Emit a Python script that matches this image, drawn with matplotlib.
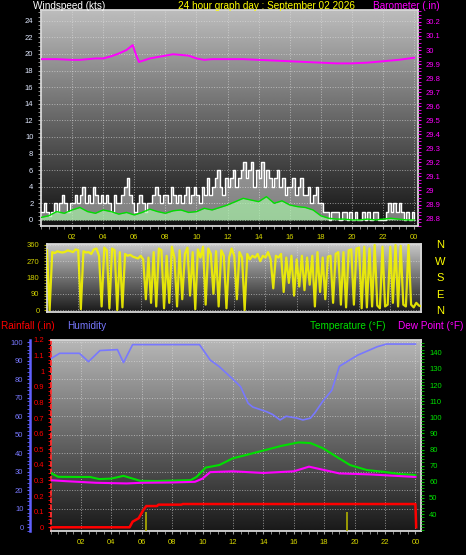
import numpy as np
import matplotlib
matplotlib.use("Agg")
from matplotlib import pyplot as plt
from matplotlib.ticker import MultipleLocator

plt.rcParams["font.family"] = ["Liberation Sans", "DejaVu Sans"]

# ---- data ----
hour_ticks = [2, 4, 6, 8, 10, 12, 14, 16, 18, 20, 22, 24]
hour_labels = ["02", "04", "06", "08", "10", "12", "14", "16", "18", "20", "22", "00"]

# wind gust, 10 minute samples (kts)
gust = [1, 2, 1, 0.5, 1, 2,
        1, 2, 3, 2, 1, 2,
        2, 3, 2, 3, 4, 2,
        3, 2, 4, 3, 2, 3,
        2, 3, 2, 1, 3, 2,
        2, 3, 4, 5, 3, 2,
        1, 2, 3, 2, 1, 2,
        2, 3, 4, 3, 2, 3,
        3, 2, 4, 3, 2, 3,
        2, 3, 4, 2, 3, 4,
        3, 2, 4, 3, 5, 3,
        4, 5, 6, 4, 3, 5,
        4, 5, 6, 4, 5, 6,
        7, 5, 6, 7, 4, 6,
        5, 7, 4, 6, 5, 4,
        5, 6, 4, 5, 3, 4,
        4, 5, 3, 4, 5, 3,
        3, 4, 2, 3, 4, 2,
        2, 1, 1, 0, 1, 1,
        1, 0, 1, 1, 0, 1,
        0, 1, 0, 0, 1, 0,
        1, 0, 1, 1, 0, 0,
        0, 1, 2, 1, 2, 1,
        2, 1, 0, 1, 0, 1,
        0]

# average wind, 30 minute samples (kts)
wind_avg = [0.3, 0.5, 1.0, 0.8, 1.2, 1.5, 1.0, 0.8, 1.2, 1.0, 0.7, 0.9,
            0.6, 0.9, 1.3, 1.0, 0.8, 1.1, 1.2, 0.9, 1.0, 1.4, 1.2, 1.5,
            1.8, 2.2, 2.6, 2.4, 2.2, 2.8, 2.0, 2.3, 1.8, 1.6, 1.5, 1.2,
            0.5, 0.2, 0.1, 0.1, 0.0, 0.0, 0.1, 0.0, 0.1, 0.2, 0.1, 0.0,
            0.0]

baro_hours = [0, 1, 2, 2.5, 3, 3.5, 4, 4.5, 5, 5.5, 5.9, 6.1, 6.3, 7, 8, 8.5, 9,
              9.5, 10, 10.5, 11, 12, 13, 14, 15, 16, 17, 18, 19, 20, 21, 22, 23, 24]
baro = [29.935, 29.935, 29.93, 29.93, 29.935, 29.94, 29.94, 29.955, 29.975, 30.0,
        30.035, 29.97, 29.915, 29.94, 29.96, 29.97, 29.965, 29.96, 29.94, 29.93,
        29.935, 29.935, 29.935, 29.93, 29.925, 29.92, 29.915, 29.91, 29.905,
        29.905, 29.91, 29.92, 29.93, 29.945]

# wind direction, 10 minute samples (degrees)
wdir = [330, 0, 320, 315, 325, 320,
        318, 322, 330, 325, 320, 335,
        330, 5, 325, 318, 320, 310,
        335, 340, 300, 20, 345, 330,
        10, 340, 330, 0, 320, 15,
        310, 300, 305, 295, 290, 285,
        300, 280, 60, 290, 40, 320,
        20, 340, 330, 10, 300, 40,
        350, 290, 20, 330, 60, 310,
        345, 80, 320, 5, 335, 290,
        350, 30, 340, 310, 90, 325,
        20, 330, 300, 10, 290, 340,
        300, 60, 320, 290, 0, 310,
        280, 300, 290, 310, 270, 300,
        290, 320, 280, 120, 300, 290,
        310, 100, 290, 150, 300, 80,
        280, 130, 300, 110, 290, 140,
        300, 20, 320, 100, 290, 60,
        295, 300, 40, 310, 320, 30,
        320, 15, 330, 335, 30, 340,
        345, 10, 350, 15, 340, 20,
        360, 25, 10, 350, 20, 30,
        350, 40, 360, 20, 355, 30,
        20, 360, 30, 15, 40, 25,
        20]

hum_hours = [0, 0.6, 1.9, 2.5, 3.25, 4.4, 4.8, 5.4, 9.8, 10.5, 11.1, 12.0, 12.5,
             13.0, 13.3, 14.2, 14.6, 15.1, 15.5, 16.2, 16.6, 17.1, 17.4, 17.9,
             18.5, 19.0, 20.2, 21.5, 22.1, 24]
hum = [91, 94, 94, 89.5, 95.5, 96, 89, 98.7, 98.7, 90.4, 86.8, 80, 76,
       67, 65, 62.5, 61, 58, 60, 59, 58, 59, 62, 68,
       74, 87, 93, 97.6, 99, 99]

temp_hours = [0, 0.5, 2, 2.6, 3.2, 4.0, 4.8, 5.9, 7, 9.2, 9.6, 10.2, 11.1, 12, 12.9,
              14, 15.2, 16.3, 17.1, 17.9, 18.8, 19.7, 20.8, 21.9, 23, 24]
temp = [65.6, 63.1, 63, 63, 61.7, 62, 63.7, 60.6, 60.5, 61, 63, 68.8, 70.4, 74.6,
        76.7, 79.4, 82.3, 84.4, 84, 80.9, 75.6, 70.4, 67.3, 66.2, 64.8, 64.2]

dew_hours = [0, 1, 3, 5, 6, 8, 9.5, 10, 10.5, 12, 13, 14, 15, 16, 17, 18, 19, 21, 24]
dew = [61, 60.4, 59.4, 59, 59.4, 59.6, 60, 62, 66, 66.5, 66, 65.5, 66, 66.5, 69.4,
       67.3, 65.2, 64.6, 63]

rain_hours = [0, 5.2, 5.4, 5.8, 6.1, 6.3, 7.0, 7.1, 8.6, 8.7, 24, 24.05]
rain = [0, 0, 0.036, 0.058, 0.11, 0.136, 0.136, 0.145, 0.145, 0.149, 0.149, 0]

rate_hours = [6.3, 19.5]
rate = [0.1, 0.1]

# ---- helpers ----
def gradient(ax, top, bottom):
    g = np.linspace(top, bottom, 256).reshape(-1, 1)
    ax.imshow(g, extent=[0, 1, 0, 1], transform=ax.transAxes, aspect="auto",
              cmap="gray", vmin=0, vmax=1, zorder=0)

def frame(ax):
    ax.set_facecolor("black")
    for s in ax.spines.values():
        s.set_color("#d8d8d8")
        s.set_linewidth(1.3)
    ax.grid(True, color="#e0e0e0", linestyle=":", linewidth=0.7, alpha=0.6)

tick_font = 5.5
title_font = 7.2
lab_yellow = "#d8d800"

fig = plt.figure(figsize=(4.66, 5.55), dpi=100, facecolor="black")

# ---- panel 1: wind + barometer ----
ax1 = fig.add_axes([0.088, 0.593, 0.809, 0.389])
gradient(ax1, 0.74, 0.07)
frame(ax1)
t10 = np.arange(len(gust)) / 6
t30 = np.arange(len(wind_avg)) / 2
ax1.fill_between(t10, 0, gust, step="post", color="white", alpha=0.45, lw=0, zorder=2)
ax1.step(t10, gust, where="post", color="white", lw=1.0, zorder=3)
ax1.fill_between(t30, 0, wind_avg, color="#a8f0a8", alpha=0.7, lw=0, zorder=3)
ax1.plot(t30, wind_avg, color="#00e000", lw=1.0, zorder=4)
ax1.set_xlim(0, 24.25)
ax1.set_ylim(-0.72, 25.3)
ax1.set_xticks(hour_ticks)
ax1.set_xticklabels(hour_labels)
ax1.xaxis.set_minor_locator(MultipleLocator(0.5))
ax1.set_yticks(range(0, 25, 2))
ax1.yaxis.set_minor_locator(MultipleLocator(0.5))
ax1.tick_params(axis="x", which="both", colors="#a0a0a0", labelcolor=lab_yellow,
                labelsize=tick_font, length=2.5, pad=3)
ax1.tick_params(axis="y", which="both", colors="#a0a0a0", labelcolor="#e0e8ff",
                labelsize=tick_font, length=2.5, pad=3)

ax1b = ax1.twinx()
ax1b.plot(baro_hours, baro, color="#ff00ff", lw=1.4)
ax1b.set_ylim(28.748, 30.285)
ax1b.set_yticks([28.8, 28.9, 29.0, 29.1, 29.2, 29.3, 29.4, 29.5, 29.6, 29.7,
                 29.8, 29.9, 30.0, 30.1, 30.2])
ax1b.set_yticklabels(["28.8", "28.9", "29", "29.1", "29.2", "29.3", "29.4", "29.5",
                      "29.6", "29.7", "29.8", "29.9", "30", "30.1", "30.2"])
ax1b.yaxis.set_minor_locator(MultipleLocator(0.025))
ax1b.tick_params(axis="y", which="both", colors="#ff00ff", labelsize=tick_font,
                 length=2.5, pad=3)
for s in ax1b.spines.values():
    s.set_visible(False)

fig.text(33 / 466, 1 - 6 / 555, "Windspeed (kts)", color="white", fontsize=title_font,
         va="center")
fig.text(266 / 466, 1 - 6 / 555, "24 hour graph day : September 02 2026", color="#ffff00",
         fontsize=title_font, va="center", ha="center")
fig.text(440 / 466, 1 - 6 / 555, "Barometer (.in)", color="#ff00ff", fontsize=title_font,
         va="center", ha="right")

# ---- panel 2: wind direction ----
ax2 = fig.add_axes([0.1009, 0.4387, 0.8036, 0.1217])
gradient(ax2, 0.78, 0.1)
frame(ax2)
ax2.plot(t10, wdir, color="#f4f400", lw=1.6, alpha=0.9, zorder=3)
ax2.set_xlim(0, 24)
ax2.set_ylim(-8, 365)
ax2.set_xticks(hour_ticks)
ax2.set_xticklabels([])
ax2.tick_params(axis="x", length=0)
ax2.set_yticks([0, 90, 180, 270, 360])
ax2.yaxis.set_minor_locator(MultipleLocator(15))
ax2.tick_params(axis="y", which="both", colors="#b0b000", labelcolor="#d0d000",
                labelsize=tick_font, length=2.5, pad=3)
for i, d in enumerate(["N", "W", "S", "E", "N"]):
    fig.text(440 / 466, 1 - (245 + i * 16.5) / 555, d, color="#ffff00", fontsize=8,
             ha="center", va="center")

# ---- panel 3: rain, humidity, temperature, dew point ----
ax3 = fig.add_axes([0.1084, 0.0432, 0.7961, 0.3442])
gradient(ax3, 0.72, 0.1)
frame(ax3)
ax3.spines["left"].set_color("#ff3030")
ax3.spines["left"].set_linestyle((0, (2, 2)))
ax3.plot(rain_hours, rain, color="#ff0000", lw=1.8, zorder=5)
ax3.vlines(rate_hours, -0.03, rate, color="#b0b000", lw=1.2, zorder=4)
ax3.set_xlim(0, 24.4)
ax3.set_ylim(-0.024, 1.2)
ax3.set_yticks(np.round(np.arange(0, 1.21, 0.1), 1))
ax3.set_yticklabels(["0", "0.1", "0.2", "0.3", "0.4", "0.5", "0.6", "0.7", "0.8",
                     "0.9", "1", "1.1", "1.2"])
ax3.yaxis.set_minor_locator(MultipleLocator(0.025))
ax3.set_xticks(hour_ticks)
ax3.set_xticklabels(hour_labels)
ax3.xaxis.set_minor_locator(MultipleLocator(0.5))
ax3.tick_params(axis="x", which="both", colors="#a0a0a0", labelcolor=lab_yellow,
                labelsize=tick_font, length=2.5, pad=3)
ax3.tick_params(axis="y", which="both", colors="#ff0000", labelsize=tick_font,
                length=2.5, pad=2)
ax3.grid(False, axis="y")
for v in np.arange(10, 101, 10):
    ax3.axhline((v + 2) / 103.2 * 1.224 - 0.024, color="#e0e0e0", ls=":", lw=0.7,
                alpha=0.6, zorder=1)

ax3h = ax3.twinx()
ax3h.plot(hum_hours, hum, color="#7878ff", lw=1.2)
ax3h.set_ylim(-2, 101.2)
ax3h.yaxis.tick_left()
ax3h.spines["left"].set_visible(True)
ax3h.spines["left"].set_position(("outward", 15))
ax3h.spines["left"].set_color("#6060ff")
ax3h.spines["left"].set_linewidth(1.8)
for k in ["right", "top", "bottom"]:
    ax3h.spines[k].set_visible(False)
ax3h.set_yticks(range(0, 101, 10))
ax3h.yaxis.set_minor_locator(MultipleLocator(2))
ax3h.tick_params(axis="y", which="both", colors="#6060ff", labelcolor="#7878ff",
                 labelsize=tick_font, length=2.5, pad=2)

ax3t = ax3.twinx()
ax3t.plot(temp_hours, temp, color="#00e000", lw=1.5)
ax3t.plot(dew_hours, dew, color="#ff00ff", lw=1.5)
ax3t.set_ylim(29.5, 147.9)
ax3t.set_yticks(range(40, 141, 10))
ax3t.yaxis.set_minor_locator(MultipleLocator(2))
ax3t.tick_params(axis="y", which="both", colors="#00c000", labelcolor="#00e000",
                 labelsize=tick_font, length=2.5, pad=3)
for s in ax3t.spines.values():
    s.set_visible(False)

fig.text(1 / 466, 1 - 326 / 555, "Rainfall (.in)", color="#ff0000", fontsize=title_font,
         va="center")
fig.text(67 / 466, 1 - 326 / 555, "Humidity", color="#7878ff", fontsize=title_font,
         va="center")
fig.text(385 / 466, 1 - 326 / 555, "Temperature (°F)", color="#00e000", fontsize=title_font,
         va="center", ha="right")
fig.text(463 / 466, 1 - 326 / 555, "Dew Point (°F)", color="#ff00ff", fontsize=title_font,
         va="center", ha="right")

fig.savefig("out.png", dpi=100, facecolor="black")
